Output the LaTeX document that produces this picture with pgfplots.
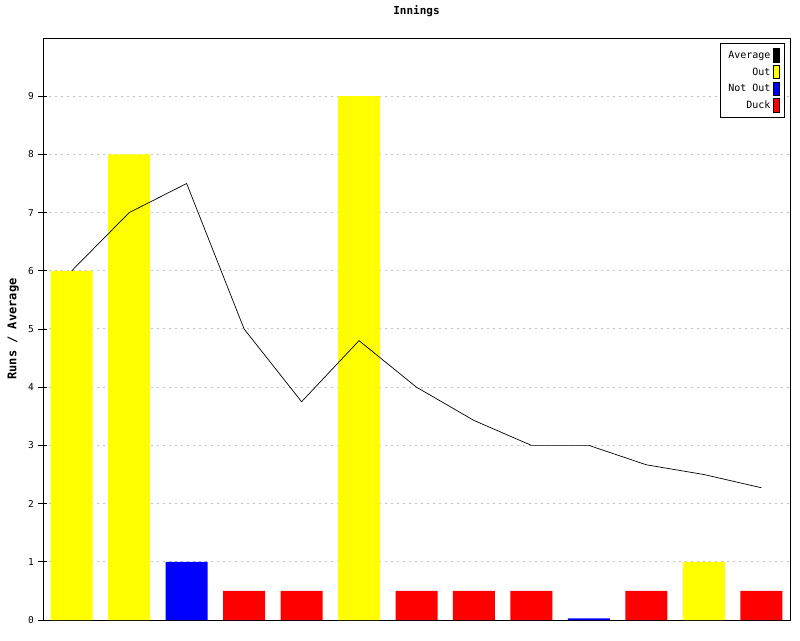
\documentclass[border=0pt]{standalone}
\usepackage{pgfplots}
\pgfplotsset{compat=1.18}
\usepackage{fontspec}
\setmainfont{DejaVu Sans Mono}
\definecolor{gridgray}{RGB}{192,192,192}
\definecolor{byellow}{RGB}{255,255,0}
\definecolor{bblue}{RGB}{0,0,255}
\definecolor{bred}{RGB}{255,0,0}
\begin{document}
\begin{tikzpicture}[x=1pt,y=1pt]
\path[use as bounding box] (0,0) rectangle (800,640);
\begin{axis}[
  at={(43pt,20pt)}, anchor=south west,
  scale only axis, width=747pt, height=582pt,
  xmin=-0.5, xmax=12.5, ymin=0, ymax=10,
  xtick=\empty,
  ytick={0,1,...,9},
  ytick pos=left,
  ymajorgrids,
  grid style={gridgray, dash pattern=on 2pt off 4pt, line width=1pt},
  axis line style={line width=0.9pt},
  major tick length=9pt, tick align=center,
  tick style={line width=0.9pt, black},
  /pgf/number format/assume math mode=true,
  yticklabel style={font=\fontsize{9.5}{10}\selectfont, xshift=-1pt},
  title={\textbf{Innings}},
  title style={font=\fontsize{11}{12}\selectfont, at={(0.5,1)}, anchor=base, yshift=17pt},
  ylabel={\textbf{Runs / Average}},
  ylabel style={font=\fontsize{12}{13}\selectfont, at={(axis description cs:-0.04,0.5)}, anchor=center},
  legend plot pos=right,
  legend cell align=right,
  legend style={at={(1,1)}, anchor=north east, xshift=-5pt, yshift=-5pt,
    font=\fontsize{10}{11}\selectfont, draw=black, line width=0.8pt,
    row sep=2.5pt, inner xsep=5pt, inner ysep=5pt,
    nodes={inner xsep=2.5pt}},
  legend image code/.code={\draw[#1, line width=0.6pt] (0pt,-6.5pt) rectangle (6pt,7pt);},
]
\addlegendimage{fill=black, draw=black}
\addlegendentry{Average}
\addlegendimage{fill=byellow, draw=black}
\addlegendentry{Out}
\addlegendimage{fill=bblue, draw=black}
\addlegendentry{Not Out}
\addlegendimage{fill=bred, draw=black}
\addlegendentry{Duck}

\addplot[ybar, bar width=42pt, bar shift=0pt, fill=byellow, draw=none, forget plot]
  coordinates {(0,6) (1,8) (5,9) (11,1)};
\addplot[ybar, bar width=42pt, bar shift=0pt, fill=bblue, draw=none, forget plot]
  coordinates {(2,1) (9,0.03)};
\addplot[ybar, bar width=42pt, bar shift=0pt, fill=bred, draw=none, forget plot]
  coordinates {(3,0.5) (4,0.5) (6,0.5) (7,0.5) (8,0.5) (10,0.5) (12,0.5)};
\addplot[black, line width=0.7pt, mark=none, forget plot]
  coordinates {(0,6) (1,7) (2,7.5) (3,5) (4,3.75) (5,4.8) (6,4) (7,3.4286) (8,3) (9,3) (10,2.6667) (11,2.5) (12,2.2727)};
\end{axis}
\end{tikzpicture}
\end{document}
